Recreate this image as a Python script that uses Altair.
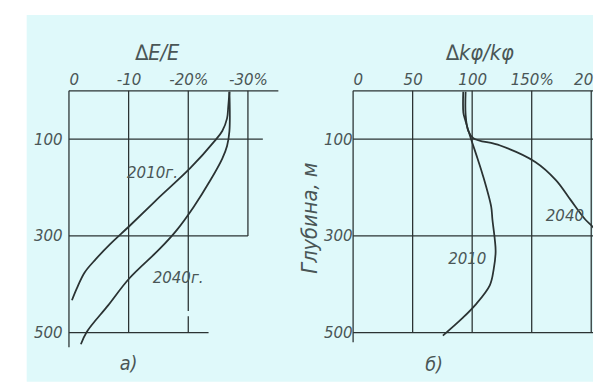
import altair as alt
import pandas as pd

# ---------------- data ----------------
depth_ticks = [100, 300, 500]

# panel а): ΔE/E, %
a_title = "∆E/E"
a_title_x = -14.8
a_xticks = [0, -10, -20, -30]
a_xlabels = ["0", "-10", "-20%", "-30%"]
a2010_depth = [2, 33, 57, 83, 104, 159, 224, 280, 317, 348, 376, 409, 433]
a2010_pct = [-26.9, -26.7, -26.5, -25.7, -24.4, -20.4, -14.8, -10.1, -6.9, -4.5, -2.6, -1.3, -0.5]
a2040_depth = [2, 83, 114, 140, 185, 240, 289, 327, 388, 443, 498, 524]
a2040_pct = [-26.9, -26.9, -26.5, -25.7, -23.7, -20.9, -18.0, -15.2, -10.1, -6.6, -3.0, -2.0]
a_curve_text = ["2010г.", "2040г."]
a_curve_text_x = [-14.0, -18.3]
a_curve_text_d = [171, 388]

# panel б): Δkφ/kφ, %
b_title = "∆kφ/kφ"
b_title_x = 106.5
b_xticks = [0, 50, 100, 150]
b_xlabels = ["0", "50", "100", "150%"]
b_edge_label = ["20"]
b_edge_value = [200]
b2010_depth = [2, 45, 59, 94, 140, 175, 240, 266, 307, 333, 370, 402, 443, 470, 506]
b2010_pct = [92.5, 92.6, 94.0, 98.3, 104.5, 109.0, 116, 117, 119, 119.7, 118, 114.8, 102.5, 91.8, 75.4]
b2040_depth = [2, 49, 83, 98, 113, 147, 185, 226, 266, 280, 310]
b2040_pct = [94.5, 94.5, 96.7, 101, 123.5, 153, 170.5, 182.8, 195, 200.8, 212]
b_curve_text = ["2010", "2040"]
b_curve_text_x = [95.9, 177.9]
b_curve_text_d = [348, 258]

# hand-drawn grid lines (their drawn lengths)
a_vgrid_x = [0, -10, -20, -30, -20]
a_vgrid_y1 = [0, 0, 0, 0, 466]
a_vgrid_y2 = [530, 500, 455, 300, 500]
a_hgrid_y = [0, 100, 300, 500]
a_hgrid_x2 = [-35.1, -32.5, -30, -23.4]

b_vgrid_x = [0, 50, 100, 150, 200]
b_vgrid_y1 = [0, 0, 0, 0, 0]
b_vgrid_y2 = [520, 500, 500, 500, 500]
b_hgrid_y = [0, 100, 300, 500]
b_hgrid_x2 = [201.5, 201.5, 201.5, 201.5]

# ---------------- style ----------------
FONT = "Liberation Sans Narrow, DejaVu Sans Condensed, Liberation Sans, sans-serif"
TXT = "#4a5656"
LINE = "#2b3333"
BG = "#dff9fa"
SPACING = 73
W_LEFT, W_RIGHT = 216, 244


def label_expr(vals, labs):
    parts = [f"datum.value == {v} ? '{l}'" for v, l in zip(vals, labs)]
    return " : ".join(parts) + " : ''"


def make_panel(xdom, width, xticks, xlabels, curves, vgrid, hgrid, ctext,
               plabel, ttl, ytitle, ylabpad, bg=None, extra=None):
    xs = alt.Scale(domain=xdom, nice=False, zero=False)
    ys = alt.Scale(domain=[0, 561], reverse=True, nice=False, zero=False)
    xaxis = alt.Axis(orient="top", values=xticks, labelExpr=label_expr(xticks, xlabels),
                     title=None, ticks=False, domain=False, grid=False, labelPadding=2,
                     labelFont=FONT, labelFontSize=17, labelFontStyle="italic",
                     labelColor=TXT, labelAngle=0, zindex=2)
    yargs = dict(values=depth_ticks, ticks=False, domain=False, grid=False,
                 labelPadding=ylabpad, labelFont=FONT, labelFontSize=17,
                 labelFontStyle="italic", labelColor=TXT, zindex=2)
    if ytitle:
        yargs.update(title=ytitle, titleX=-44, titleY=129, titleAngle=-90,
                     titleBaseline="middle", titleAlign="center", titleFont=FONT,
                     titleFontSize=22, titleFontWeight="normal", titleFontStyle="italic",
                     titleColor=TXT)
    else:
        yargs.update(title=None)
    yaxis = alt.Axis(**yargs)

    layers = []
    if bg is not None:
        layers.append(alt.Chart(pd.DataFrame({"k": [0]})).mark_rect(color=BG).encode(
            x=alt.value(bg[0]), x2=alt.value(bg[1]), y=alt.value(-77), y2=alt.value(296)))

    vg = alt.Chart(vgrid).mark_rule(color=LINE, strokeWidth=1.3).encode(
        x=alt.X("gx:Q", scale=xs, axis=xaxis),
        y=alt.Y("gy1:Q", scale=ys, axis=yaxis), y2="gy2:Q")
    hg = alt.Chart(hgrid).mark_rule(color=LINE, strokeWidth=1.3).encode(
        y=alt.Y("gy:Q", scale=ys, axis=yaxis),
        x=alt.X("gx1:Q", scale=xs, axis=xaxis), x2="gx2:Q")
    ln = alt.Chart(curves).mark_line(color=LINE, strokeWidth=1.8,
                                     interpolate="catmull-rom", clip=True).encode(
        x=alt.X("pct:Q", scale=xs, axis=xaxis),
        y=alt.Y("depth:Q", scale=ys, axis=yaxis),
        detail="year:N", order="i:Q")
    tx = alt.Chart(ctext).mark_text(font=FONT, fontSize=17, fontStyle="italic",
                                    color=TXT).encode(
        x=alt.X("tx:Q", scale=xs, axis=xaxis),
        y=alt.Y("td:Q", scale=ys, axis=yaxis), text="t:N")
    pl = alt.Chart(plabel).mark_text(font=FONT, fontSize=20, fontStyle="italic",
                                     color=TXT).encode(
        x=alt.X("tx:Q", scale=xs, axis=xaxis),
        y=alt.Y("td:Q", scale=ys, axis=yaxis), text="t:N")
    tt = alt.Chart(ttl).mark_text(font=FONT, fontSize=22, fontStyle="italic",
                                  color=TXT).encode(
        x=alt.X("tx:Q", scale=xs, axis=xaxis), y=alt.value(-38), text="t:N")
    layers += [vg, hg, ln, tx, pl, tt]
    if extra is not None:
        ex = alt.Chart(extra).mark_text(font=FONT, fontSize=17, fontStyle="italic",
                                        color=TXT, align="right", baseline="bottom",
                                        dx=2).encode(
            x=alt.X("ex:Q", scale=xs, axis=xaxis), y=alt.value(-2), text="et:N")
        layers.append(ex)
    return alt.layer(*layers).properties(width=width, height=276)


def curves_df(d1, p1, d2, p2):
    rows = []
    for yr, ds, ps in (("2010", d1, p1), ("2040", d2, p2)):
        for i, (d, p) in enumerate(zip(ds, ps)):
            rows.append({"year": yr, "i": i, "depth": d, "pct": p})
    return pd.DataFrame(rows)


a_curves = curves_df(a2010_depth, a2010_pct, a2040_depth, a2040_pct)
b_curves = curves_df(b2010_depth, b2010_pct, b2040_depth, b2040_pct)

a_v = pd.DataFrame({"gx": a_vgrid_x, "gy1": a_vgrid_y1, "gy2": a_vgrid_y2})
a_h = pd.DataFrame({"gy": a_hgrid_y, "gx1": [0] * len(a_hgrid_y), "gx2": a_hgrid_x2})
b_v = pd.DataFrame({"gx": b_vgrid_x, "gy1": b_vgrid_y1, "gy2": b_vgrid_y2})
b_h = pd.DataFrame({"gy": b_hgrid_y, "gx1": [0] * len(b_hgrid_y), "gx2": b_hgrid_x2})

a_t = pd.DataFrame({"t": a_curve_text, "tx": a_curve_text_x, "td": a_curve_text_d})
b_t = pd.DataFrame({"t": b_curve_text, "tx": b_curve_text_x, "td": b_curve_text_d})
a_pl = pd.DataFrame({"t": ["а)"], "tx": [-10], "td": [566]})
b_pl = pd.DataFrame({"t": ["б)"], "tx": [68], "td": [568]})
a_tt = pd.DataFrame({"t": [a_title], "tx": [a_title_x]})
b_tt = pd.DataFrame({"t": [b_title], "tx": [b_title_x]})
b_ex = pd.DataFrame({"et": b_edge_label, "ex": b_edge_value})

# one background panel, drawn in the left view and spanning both views
left = make_panel([0, -35.6], W_LEFT, a_xticks, a_xlabels, a_curves, a_v, a_h, a_t,
                  a_pl, a_tt, None, 7, bg=(-43, W_LEFT + SPACING + W_RIGHT))
right = make_panel([0, 201.5], W_RIGHT, b_xticks, b_xlabels, b_curves, b_v, b_h, b_t,
                   b_pl, b_tt, "Глубина, м", 1, extra=b_ex)

chart = alt.hconcat(left, right, spacing=SPACING, bounds="flush").properties(
    padding={"left": 19, "top": 4, "right": 0, "bottom": 0},
    background="white",
).configure_view(stroke=None)

chart.save("out.html", embed_options={"renderer": "svg", "actions": False})
